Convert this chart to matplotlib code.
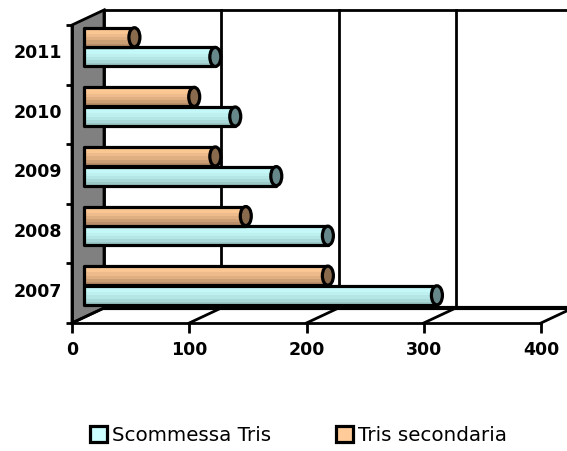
import matplotlib
matplotlib.use('Agg')
import matplotlib.pyplot as plt
from matplotlib.patches import Ellipse, Patch, Rectangle
from matplotlib.transforms import Affine2D

# data
years = ['2007', '2008', '2009', '2010', '2011']
scommessa = [301, 208, 164, 129, 112]
secondaria = [208, 138, 112, 94, 43]
x_ticks = [0, 100, 200, 300, 400]

blue_bands = ['#c6fbfb', '#c4f8f8', '#bdf0ef', '#b4e6e5', '#a8d8d7', '#9cc8c7']
orange_bands = ['#fdcb98', '#fac793', '#eebc8c', '#dfae81', '#cd9f75', '#ba8f69']
blue_cap = '#67888a'
orange_cap = '#8a6a4c'

W, H = 567, 451
fig = plt.figure(figsize=(W / 100, H / 100), dpi=100)
ax = fig.add_axes([72 / W, 1 - 323 / H, (541 - 72) / W, (323 - 25) / H])
ax.set_xlim(0, 400)
ax.set_ylim(-0.5, 4.5)
ax.patch.set_visible(False)
for s in ['top', 'right']:
    ax.spines[s].set_visible(False)
for s in ['left', 'bottom']:
    ax.spines[s].set_linewidth(2)

# depth of the fake 3d box, in pixels
back = ax.transData + Affine2D().translate(32, 15)
front_bars = ax.transData + Affine2D().translate(12, 8)
LW = 2
BAR_LW = 2.3

# side wall
wall = plt.Polygon([[0, -0.5], [0, 4.5], [32 / 1.1725, 4.5 + 15 / 59.6], [32 / 1.1725, -0.5 + 15 / 59.6]],
                   closed=True, facecolor='#808080', edgecolor='black', lw=LW, clip_on=False, zorder=1)
ax.add_patch(wall)

# back grid, top and bottom of the back wall
for t in x_ticks:
    ax.plot([t, t], [-0.5, 4.5], color='black', lw=LW, transform=back, clip_on=False, zorder=1)
ax.plot([0, 400], [4.5, 4.5], color='black', lw=LW, transform=back, clip_on=False, zorder=1)
ax.plot([0, 400], [-0.5, -0.5], color='black', lw=LW + 1, transform=back, clip_on=False, zorder=1)

# floor lines
for t in x_ticks:
    ax.plot([t, t + 32 / 1.1725], [-0.5, -0.5 + 15 / 59.6], color='black', lw=LW, clip_on=False, zorder=1)


def draw_bars(values, y_shift, bands, cap, z):
    bar_h = 0.32
    n = len(bands)
    for i, v in enumerate(values):
        y = i + y_shift
        for k, c in enumerate(bands):
            ax.barh(y + bar_h / 2 - (k + 0.5) * bar_h / n, v, height=bar_h / n, color=c,
                    transform=front_bars, clip_on=False, zorder=z)
        ax.add_patch(Rectangle((0, y - bar_h / 2), v, bar_h, fill=False, edgecolor='black', lw=BAR_LW,
                               joinstyle='round', transform=front_bars, clip_on=False, zorder=z + 0.1))
        ax.add_patch(Ellipse((v, y), 11 / 1.1725, bar_h, facecolor=cap, edgecolor='black', lw=BAR_LW,
                             transform=front_bars, clip_on=False, zorder=z + 0.2))


draw_bars(scommessa, -0.17, blue_bands, blue_cap, 3)
draw_bars(secondaria, 0.16, orange_bands, orange_cap, 4)

ax.set_xticks(x_ticks)
ax.set_xticklabels(x_ticks, fontsize=12.5, fontweight='bold')
ax.set_yticks([i - 0.5 for i in range(6)])
ax.set_yticklabels([])
ax.set_yticks([i + 0.06 for i in range(5)], labels=years, minor=True, fontsize=12.5, fontweight='bold')
ax.tick_params(axis='y', which='minor', length=0, pad=7)
ax.tick_params(axis='y', which='major', length=4, width=2)
ax.tick_params(axis='x', length=7, width=2, pad=6)

handles = [Patch(facecolor='#ccffff', edgecolor='black', lw=2.3, label='Scommessa Tris'),
           Patch(facecolor='#ffcc99', edgecolor='black', lw=2.3, label='Tris secondaria')]
leg = fig.legend(handles=handles, loc='lower left', bbox_to_anchor=(72 / W, 1 - 463 / H), ncol=2, frameon=False,
                 fontsize=14.3, handlelength=0.85, handleheight=0.85, handletextpad=0.25, columnspacing=3.3)

fig.savefig('out.png', dpi=100)
